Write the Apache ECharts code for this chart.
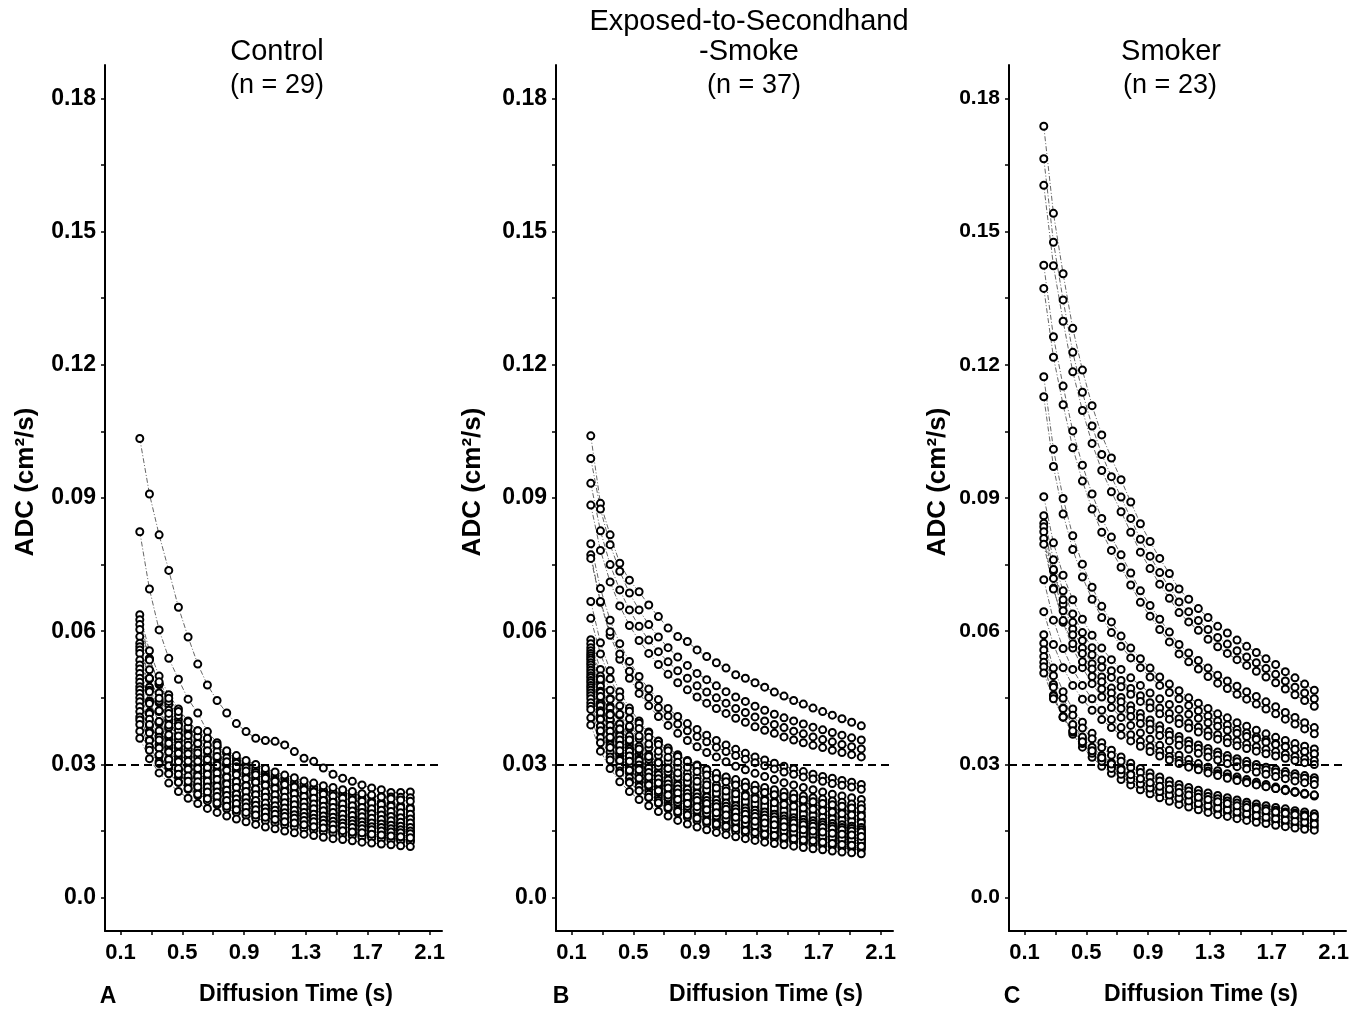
<!DOCTYPE html>
<html><head><meta charset="utf-8">
<script src="https://cdn.jsdelivr.net/npm/echarts@6/dist/echarts.min.js"></script>
<style>html,body{margin:0;padding:0;background:#fff}#chart{width:1369px;height:1015px}</style>
</head><body><div id="chart"></div>
<script>
// Diffusion times (s) of the ADC measurements
const diffusionTimes = [0.225,0.2875,0.35,0.4125,0.475,0.5375,0.6,0.6625,0.725,0.7875,0.85,0.9125,0.975,1.0375,1.1,1.1625,1.225,1.2875,1.35,1.4125,1.475,1.5375,1.6,1.6625,1.725,1.7875,1.85,1.9125,1.975];
const xTickValues = [0.1,0.3,0.5,0.7,0.9,1.1,1.3,1.5,1.7,1.9,2.1];
const xLabelValues = [0.1,0.5,0.9,1.3,1.7,2.1];
const yTickValues = [0,0.015,0.03,0.045,0.06,0.075,0.09,0.105,0.12,0.135,0.15,0.165,0.18];
const yLabelValues = [0,0.03,0.06,0.09,0.12,0.15,0.18];
const thresholdADC = 0.03;

// Panel A: Control (n = 29), ADC in cm^2/s
const controlADC = [
[.1034,.0909,.0817,.0737,.0654,.0587,.0526,.0479,.0444,.0416,.0392,.0374,.0359,.0354,.0352,.0344,.0329,.0314,.0307,.0292,.0278,.0269,.0262,.0254,.0247,.0243,.0237,.0237,.0238],
[.0824,.0695,.0603,.0539,.0492,.0447,.0416,.0374,.0349,.0326,.0307,.0296,.0284,.0277,.0267,.0258,.0251,.0249,.0243,.0240,.0237,.0235,.0233,.0231,.0229,.0228,.0227,.0226,.0225],
[.0637,.0556,.0499,.0457,.0425,.0398,.0376,.0357,.0341,.0326,.0313,.0303,.0292,.0283,.0275,.0267,.0260,.0254,.0248,.0242,.0236,.0232,.0227,.0222,.0218,.0215,.0211,.0208,.0204],
[.0626,.0539,.0480,.0435,.0401,.0373,.0350,.0331,.0314,.0300,.0287,.0276,.0265,.0257,.0249,.0240,.0233,.0227,.0221,.0216,.0210,.0206,.0201,.0197,.0193,.0189,.0185,.0182,.0179],
[.0615,.0537,.0482,.0442,.0410,.0384,.0363,.0344,.0329,.0315,.0303,.0292,.0282,.0273,.0265,.0258,.0251,.0245,.0239,.0234,.0228,.0224,.0219,.0215,.0211,.0207,.0204,.0200,.0197],
[.0604,.0535,.0486,.0449,.0419,.0396,.0376,.0359,.0344,.0331,.0320,.0309,.0300,.0291,.0283,.0276,.0270,.0263,.0258,.0252,.0248,.0243,.0239,.0234,.0231,.0227,.0223,.0220,.0217],
[.0588,.0513,.0461,.0422,.0392,.0368,.0347,.0329,.0315,.0301,.0289,.0279,.0270,.0261,.0253,.0246,.0240,.0234,.0229,.0223,.0218,.0214,.0209,.0205,.0202,.0198,.0195,.0192,.0188],
[.0573,.0493,.0439,.0398,.0367,.0342,.0320,.0303,.0288,.0274,.0263,.0253,.0243,.0235,.0227,.0220,.0214,.0208,.0202,.0198,.0193,.0189,.0184,.0180,.0176,.0173,.0170,.0167,.0164],
[.0565,.0493,.0443,.0406,.0377,.0353,.0333,.0316,.0302,.0289,.0278,.0268,.0259,.0251,.0244,.0237,.0231,.0225,.0220,.0215,.0210,.0206,.0201,.0197,.0194,.0190,.0187,.0184,.0181],
[.0558,.0494,.0449,.0415,.0387,.0365,.0347,.0331,.0318,.0306,.0295,.0285,.0277,.0269,.0262,.0255,.0249,.0243,.0238,.0233,.0229,.0224,.0220,.0217,.0213,.0210,.0206,.0203,.0200],
[.0550,.0474,.0421,.0382,.0352,.0328,.0307,.0291,.0276,.0263,.0252,.0243,.0233,.0226,.0218,.0211,.0205,.0200,.0194,.0190,.0185,.0181,.0177,.0173,.0169,.0166,.0163,.0160,.0157],
[.0535,.0467,.0419,.0384,.0357,.0334,.0316,.0300,.0286,.0274,.0263,.0254,.0246,.0238,.0231,.0224,.0218,.0213,.0208,.0203,.0198,.0195,.0190,.0187,.0184,.0180,.0177,.0174,.0171],
[.0524,.0464,.0421,.0389,.0364,.0343,.0326,.0311,.0298,.0287,.0277,.0268,.0260,.0253,.0246,.0239,.0234,.0228,.0224,.0219,.0215,.0211,.0207,.0203,.0200,.0197,.0194,.0191,.0188],
[.0515,.0443,.0394,.0358,.0330,.0307,.0288,.0272,.0259,.0247,.0236,.0227,.0218,.0211,.0204,.0198,.0192,.0187,.0182,.0178,.0173,.0169,.0165,.0162,.0159,.0156,.0152,.0150,.0147],
[.0505,.0441,.0396,.0363,.0337,.0316,.0298,.0283,.0270,.0259,.0248,.0240,.0232,.0224,.0218,.0212,.0206,.0201,.0196,.0192,.0187,.0184,.0180,.0176,.0173,.0170,.0167,.0165,.0162],
[.0494,.0437,.0397,.0367,.0343,.0324,.0307,.0293,.0281,.0271,.0261,.0252,.0245,.0238,.0232,.0226,.0221,.0215,.0211,.0206,.0203,.0199,.0195,.0192,.0189,.0186,.0183,.0180,.0177],
[.0485,.0418,.0372,.0337,.0310,.0289,.0271,.0257,.0243,.0232,.0223,.0214,.0206,.0199,.0193,.0186,.0181,.0176,.0171,.0167,.0163,.0160,.0156,.0153,.0149,.0146,.0144,.0141,.0139],
[.0475,.0415,.0372,.0341,.0317,.0297,.0280,.0266,.0254,.0243,.0234,.0226,.0218,.0211,.0205,.0199,.0194,.0189,.0185,.0181,.0176,.0173,.0169,.0166,.0163,.0160,.0157,.0155,.0152],
[.0468,.0414,.0376,.0348,.0325,.0307,.0291,.0278,.0266,.0256,.0248,.0239,.0232,.0226,.0219,.0214,.0209,.0204,.0200,.0196,.0192,.0188,.0185,.0182,.0179,.0176,.0173,.0170,.0168],
[.0460,.0402,.0361,.0330,.0307,.0288,.0271,.0258,.0246,.0236,.0226,.0219,.0211,.0204,.0198,.0193,.0188,.0183,.0179,.0175,.0171,.0167,.0164,.0161,.0158,.0155,.0152,.0150,.0147],
[.0450,.0387,.0345,.0313,.0288,.0268,.0252,.0238,.0226,.0216,.0207,.0198,.0191,.0185,.0179,.0173,.0168,.0163,.0159,.0155,.0151,.0148,.0144,.0142,.0139,.0136,.0133,.0131,.0129],
[.0441,.0390,.0355,.0328,.0306,.0289,.0274,.0262,.0251,.0242,.0233,.0225,.0219,.0213,.0207,.0202,.0197,.0192,.0188,.0184,.0181,.0177,.0174,.0171,.0168,.0166,.0163,.0161,.0158],
[.0430,.0375,.0337,.0309,.0287,.0269,.0254,.0241,.0230,.0220,.0212,.0204,.0197,.0191,.0185,.0180,.0175,.0171,.0167,.0163,.0160,.0157,.0153,.0150,.0147,.0145,.0142,.0140,.0138],
[.0419,.0371,.0337,.0311,.0291,.0274,.0261,.0249,.0238,.0230,.0222,.0214,.0208,.0202,.0197,.0191,.0187,.0183,.0179,.0175,.0172,.0168,.0166,.0163,.0160,.0158,.0155,.0153,.0150],
[.0407,.0355,.0319,.0292,.0271,.0254,.0240,.0228,.0218,.0208,.0200,.0193,.0187,.0181,.0175,.0171,.0166,.0162,.0158,.0155,.0151,.0148,.0145,.0142,.0140,.0137,.0135,.0133,.0130],
[.0400,.0354,.0322,.0297,.0278,.0262,.0249,.0238,.0228,.0219,.0212,.0204,.0198,.0193,.0188,.0183,.0179,.0174,.0171,.0167,.0164,.0161,.0158,.0155,.0153,.0150,.0148,.0146,.0144],
[.0390,.0340,.0306,.0280,.0260,.0244,.0230,.0218,.0209,.0200,.0192,.0185,.0179,.0173,.0168,.0163,.0159,.0155,.0152,.0148,.0145,.0142,.0139,.0136,.0134,.0131,.0129,.0127,.0125],
[.0375,.0332,.0302,.0279,.0260,.0246,.0233,.0223,.0213,.0206,.0198,.0192,.0186,.0181,.0176,.0171,.0168,.0164,.0160,.0157,.0154,.0151,.0148,.0146,.0143,.0141,.0139,.0137,.0135],
[.0359,.0313,.0281,.0258,.0239,.0224,.0212,.0201,.0192,.0184,.0177,.0171,.0165,.0159,.0155,.0150,.0146,.0143,.0140,.0136,.0133,.0131,.0128,.0125,.0123,.0121,.0119,.0117,.0115]
];

// Panel B: Exposed-to-Secondhand-Smoke (n = 37)
const exposedADC = [
[.1040,.0888,.0817,.0753,.0715,.0689,.0659,.0633,.0607,.0588,.0577,.0558,.0543,.0529,.0517,.0502,.0494,.0484,.0474,.0463,.0454,.0444,.0436,.0427,.0419,.0411,.0403,.0395,.0387],
[.0989,.0875,.0795,.0735,.0686,.0648,.0615,.0587,.0563,.0542,.0523,.0505,.0491,.0477,.0464,.0452,.0442,.0431,.0422,.0413,.0405,.0398,.0391,.0384,.0378,.0372,.0366,.0360,.0355],
[.0933,.0826,.0750,.0693,.0648,.0611,.0580,.0554,.0531,.0511,.0494,.0477,.0463,.0450,.0438,.0426,.0417,.0407,.0398,.0390,.0383,.0375,.0369,.0362,.0356,.0351,.0345,.0340,.0335],
[.0884,.0782,.0711,.0657,.0613,.0579,.0550,.0525,.0503,.0484,.0468,.0452,.0438,.0426,.0415,.0404,.0395,.0385,.0377,.0370,.0362,.0355,.0349,.0343,.0338,.0332,.0327,.0322,.0317],
[.0797,.0696,.0625,.0572,.0532,.0498,.0470,.0446,.0426,.0408,.0392,.0379,.0366,.0354,.0344,.0334,.0325,.0317,.0310,.0303,.0296,.0290,.0284,.0278,.0273,.0269,.0264,.0260,.0255],
[.0772,.0665,.0591,.0537,.0494,.0460,.0432,.0408,.0388,.0370,.0354,.0340,.0327,.0317,.0306,.0296,.0288,.0280,.0273,.0266,.0259,.0254,.0248,.0243,.0238,.0233,.0229,.0225,.0221],
[.0764,.0667,.0599,.0549,.0510,.0478,.0451,.0428,.0409,.0391,.0376,.0363,.0351,.0339,.0329,.0320,.0312,.0304,.0297,.0290,.0283,.0278,.0272,.0267,.0262,.0257,.0253,.0249,.0244],
[.0667,.0574,.0511,.0464,.0427,.0398,.0373,.0353,.0335,.0319,.0306,.0294,.0283,.0273,.0265,.0256,.0249,.0242,.0235,.0230,.0224,.0219,.0214,.0210,.0205,.0201,.0197,.0194,.0191],
[.0629,.0549,.0493,.0452,.0420,.0393,.0371,.0352,.0337,.0322,.0309,.0299,.0289,.0279,.0271,.0264,.0257,.0250,.0245,.0239,.0233,.0229,.0224,.0220,.0216,.0212,.0208,.0205,.0201],
[.0581,.0514,.0467,.0432,.0403,.0381,.0361,.0345,.0331,.0318,.0307,.0297,.0288,.0280,.0272,.0266,.0260,.0253,.0248,.0243,.0238,.0234,.0229,.0225,.0222,.0218,.0215,.0211,.0209],
[.0572,.0499,.0448,.0411,.0382,.0358,.0337,.0320,.0306,.0293,.0281,.0272,.0263,.0254,.0247,.0240,.0233,.0228,.0223,.0217,.0212,.0208,.0204,.0200,.0196,.0193,.0189,.0186,.0183],
[.0563,.0485,.0431,.0391,.0360,.0336,.0315,.0298,.0283,.0270,.0258,.0248,.0239,.0231,.0224,.0216,.0210,.0204,.0199,.0194,.0189,.0185,.0181,.0177,.0173,.0170,.0167,.0164,.0161],
[.0556,.0492,.0447,.0413,.0386,.0364,.0346,.0330,.0316,.0305,.0294,.0284,.0276,.0268,.0261,.0254,.0249,.0242,.0237,.0232,.0228,.0224,.0220,.0216,.0212,.0209,.0206,.0202,.0200],
[.0550,.0467,.0411,.0370,.0338,.0313,.0292,.0274,.0260,.0246,.0235,.0225,.0216,.0208,.0201,.0194,.0188,.0182,.0177,.0172,.0168,.0163,.0160,.0156,.0152,.0149,.0146,.0143,.0140],
[.0545,.0476,.0427,.0391,.0364,.0341,.0322,.0305,.0292,.0279,.0268,.0259,.0250,.0242,.0235,.0228,.0222,.0217,.0212,.0207,.0202,.0198,.0194,.0190,.0187,.0184,.0180,.0178,.0174],
[.0540,.0465,.0414,.0375,.0346,.0322,.0302,.0286,.0271,.0259,.0248,.0238,.0229,.0221,.0214,.0207,.0201,.0196,.0191,.0186,.0181,.0178,.0173,.0170,.0166,.0163,.0160,.0157,.0154],
[.0535,.0454,.0400,.0360,.0329,.0304,.0284,.0267,.0253,.0240,.0228,.0219,.0210,.0202,.0195,.0188,.0182,.0177,.0172,.0167,.0163,.0159,.0155,.0151,.0148,.0145,.0142,.0139,.0136],
[.0529,.0462,.0415,.0380,.0353,.0331,.0312,.0296,.0283,.0271,.0260,.0251,.0243,.0235,.0228,.0222,.0216,.0211,.0206,.0201,.0196,.0193,.0188,.0185,.0181,.0178,.0175,.0172,.0169],
[.0524,.0451,.0401,.0364,.0335,.0312,.0293,.0277,.0263,.0251,.0241,.0231,.0222,.0215,.0208,.0201,.0195,.0190,.0185,.0181,.0176,.0172,.0168,.0165,.0161,.0158,.0155,.0152,.0150],
[.0518,.0440,.0387,.0348,.0319,.0295,.0275,.0258,.0245,.0232,.0221,.0212,.0204,.0196,.0189,.0182,.0177,.0171,.0167,.0162,.0158,.0154,.0150,.0147,.0143,.0140,.0137,.0135,.0132],
[.0512,.0453,.0412,.0380,.0355,.0335,.0318,.0304,.0291,.0281,.0271,.0262,.0254,.0247,.0240,.0234,.0229,.0223,.0219,.0214,.0210,.0206,.0202,.0199,.0196,.0193,.0189,.0186,.0184],
[.0506,.0436,.0388,.0352,.0324,.0302,.0283,.0268,.0254,.0242,.0232,.0223,.0215,.0207,.0201,.0194,.0189,.0184,.0179,.0175,.0170,.0166,.0162,.0159,.0156,.0153,.0150,.0147,.0145],
[.0500,.0425,.0374,.0336,.0308,.0285,.0266,.0250,.0236,.0224,.0214,.0205,.0197,.0189,.0183,.0176,.0171,.0166,.0161,.0157,.0153,.0149,.0145,.0142,.0139,.0136,.0133,.0130,.0128],
[.0495,.0432,.0388,.0355,.0330,.0309,.0292,.0277,.0265,.0253,.0244,.0235,.0227,.0220,.0213,.0207,.0202,.0197,.0193,.0188,.0184,.0180,.0176,.0173,.0170,.0167,.0164,.0161,.0158],
[.0489,.0421,.0375,.0340,.0313,.0291,.0273,.0259,.0245,.0234,.0224,.0216,.0207,.0200,.0194,.0188,.0182,.0178,.0173,.0169,.0164,.0161,.0157,.0154,.0151,.0148,.0145,.0142,.0140],
[.0484,.0411,.0362,.0325,.0298,.0275,.0257,.0242,.0228,.0217,.0207,.0198,.0190,.0183,.0177,.0170,.0165,.0160,.0156,.0151,.0148,.0144,.0140,.0137,.0134,.0131,.0128,.0126,.0123],
[.0478,.0417,.0375,.0343,.0319,.0299,.0282,.0268,.0256,.0245,.0235,.0227,.0219,.0212,.0206,.0200,.0195,.0190,.0186,.0182,.0177,.0174,.0170,.0167,.0164,.0161,.0158,.0156,.0153],
[.0473,.0402,.0353,.0318,.0291,.0269,.0251,.0236,.0223,.0212,.0202,.0193,.0186,.0179,.0173,.0166,.0161,.0157,.0152,.0148,.0144,.0140,.0137,.0134,.0131,.0128,.0125,.0123,.0121],
[.0467,.0402,.0358,.0325,.0299,.0278,.0261,.0247,.0234,.0224,.0214,.0206,.0198,.0191,.0185,.0179,.0174,.0170,.0165,.0161,.0157,.0154,.0150,.0147,.0144,.0141,.0138,.0136,.0134],
[.0461,.0402,.0361,.0331,.0307,.0288,.0272,.0258,.0247,.0236,.0227,.0219,.0212,.0205,.0199,.0193,.0188,.0183,.0179,.0175,.0171,.0168,.0164,.0161,.0158,.0155,.0153,.0150,.0148],
[.0455,.0386,.0340,.0306,.0280,.0259,.0242,.0227,.0215,.0204,.0194,.0186,.0179,.0172,.0166,.0160,.0155,.0151,.0147,.0142,.0139,.0135,.0132,.0129,.0126,.0123,.0121,.0118,.0116],
[.0448,.0386,.0344,.0312,.0287,.0267,.0251,.0237,.0225,.0215,.0206,.0197,.0190,.0184,.0178,.0172,.0167,.0162,.0158,.0154,.0150,.0147,.0143,.0141,.0138,.0135,.0132,.0130,.0128],
[.0439,.0373,.0328,.0295,.0270,.0250,.0233,.0219,.0207,.0197,.0187,.0180,.0173,.0166,.0160,.0155,.0150,.0145,.0141,.0137,.0134,.0130,.0127,.0124,.0122,.0119,.0116,.0114,.0112],
[.0431,.0376,.0338,.0309,.0287,.0269,.0254,.0241,.0231,.0221,.0212,.0205,.0198,.0191,.0186,.0181,.0176,.0172,.0168,.0164,.0160,.0157,.0153,.0150,.0148,.0145,.0143,.0141,.0138],
[.0424,.0360,.0317,.0285,.0261,.0241,.0225,.0212,.0200,.0190,.0181,.0173,.0167,.0160,.0155,.0149,.0145,.0140,.0137,.0133,.0129,.0126,.0123,.0120,.0117,.0115,.0112,.0110,.0108],
[.0405,.0349,.0310,.0281,.0259,.0241,.0226,.0214,.0203,.0194,.0186,.0179,.0172,.0166,.0161,.0156,.0151,.0147,.0143,.0140,.0136,.0133,.0130,.0128,.0125,.0122,.0120,.0118,.0116],
[.0389,.0330,.0291,.0261,.0239,.0221,.0207,.0194,.0184,.0174,.0166,.0159,.0153,.0147,.0142,.0137,.0133,.0129,.0125,.0122,.0119,.0116,.0113,.0110,.0108,.0105,.0103,.0101,.0099]
];

// Panel C: Smoker (n = 23)
const smokerADC = [
[.1737,.1541,.1405,.1282,.1188,.1108,.1042,.0990,.0941,.0891,.0842,.0802,.0764,.0730,.0695,.0672,.0651,.0631,.0611,.0596,.0580,.0566,.0552,.0538,.0525,.0509,.0495,.0481,.0467],
[.1664,.1476,.1346,.1228,.1138,.1062,.0998,.0948,.0902,.0854,.0807,.0769,.0732,.0699,.0666,.0644,.0624,.0604,.0586,.0571,.0556,.0542,.0529,.0516,.0503,.0488,.0474,.0461,.0448],
[.1604,.1423,.1298,.1184,.1097,.1023,.0962,.0914,.0869,.0823,.0778,.0741,.0706,.0674,.0642,.0621,.0602,.0582,.0565,.0550,.0536,.0523,.0510,.0497,.0484,.0470,.0457,.0444,.0431],
[.1424,.1263,.1152,.1051,.0974,.0909,.0854,.0812,.0772,.0731,.0691,.0658,.0627,.0598,.0570,.0551,.0534,.0517,.0501,.0488,.0476,.0464,.0453,.0441,.0430,.0417,.0406,.0394,.0383],
[.1372,.1217,.1110,.1013,.0938,.0875,.0823,.0782,.0744,.0704,.0665,.0634,.0604,.0576,.0549,.0531,.0515,.0498,.0483,.0471,.0458,.0447,.0436,.0425,.0414,.0402,.0391,.0380,.0369],
[.1173,.1010,.0899,.0815,.0751,.0699,.0656,.0621,.0589,.0562,.0538,.0517,.0497,.0481,.0466,.0450,.0438,.0426,.0414,.0405,.0394,.0386,.0377,.0369,.0361,.0354,.0347,.0341,.0335],
[.1128,.0971,.0864,.0784,.0722,.0672,.0631,.0597,.0566,.0540,.0518,.0497,.0478,.0462,.0448,.0433,.0421,.0409,.0398,.0389,.0379,.0371,.0362,.0355,.0347,.0341,.0334,.0328,.0323],
[.0903,.0799,.0726,.0671,.0627,.0591,.0562,.0536,.0514,.0495,.0478,.0461,.0448,.0435,.0424,.0413,.0404,.0394,.0386,.0377,.0370,.0363,.0357,.0350,.0345,.0340,.0334,.0329,.0324],
[.0860,.0761,.0691,.0639,.0597,.0563,.0535,.0511,.0489,.0471,.0455,.0439,.0427,.0415,.0403,.0393,.0384,.0375,.0367,.0359,.0353,.0346,.0340,.0334,.0329,.0323,.0318,.0313,.0309],
[.0843,.0736,.0661,.0605,.0562,.0527,.0497,.0472,.0451,.0432,.0415,.0400,.0387,.0374,.0363,.0353,.0344,.0336,.0328,.0320,.0313,.0307,.0300,.0294,.0289,.0284,.0279,.0275,.0270],
[.0835,.0739,.0671,.0620,.0579,.0547,.0519,.0496,.0475,.0458,.0442,.0427,.0414,.0402,.0392,.0382,.0373,.0364,.0357,.0349,.0342,.0336,.0330,.0324,.0319,.0314,.0309,.0304,.0300],
[.0824,.0719,.0646,.0592,.0550,.0515,.0486,.0461,.0441,.0422,.0405,.0391,.0378,.0366,.0355,.0345,.0336,.0328,.0321,.0313,.0306,.0300,.0293,.0288,.0283,.0278,.0273,.0269,.0264],
[.0809,.0697,.0620,.0562,.0518,.0482,.0452,.0428,.0406,.0388,.0371,.0357,.0343,.0332,.0321,.0311,.0302,.0294,.0286,.0279,.0272,.0266,.0260,.0255,.0249,.0244,.0239,.0235,.0231],
[.0796,.0695,.0624,.0572,.0531,.0498,.0470,.0446,.0426,.0408,.0392,.0378,.0365,.0353,.0343,.0334,.0325,.0317,.0310,.0302,.0295,.0290,.0283,.0278,.0273,.0268,.0263,.0259,.0255],
[.0716,.0625,.0561,.0514,.0478,.0448,.0422,.0401,.0383,.0367,.0352,.0340,.0329,.0318,.0309,.0300,.0292,.0285,.0279,.0272,.0266,.0261,.0255,.0250,.0246,.0241,.0237,.0233,.0229],
[.0644,.0570,.0518,.0478,.0447,.0422,.0401,.0383,.0366,.0353,.0341,.0329,.0319,.0310,.0302,.0294,.0288,.0281,.0275,.0269,.0264,.0259,.0254,.0250,.0246,.0242,.0238,.0234,.0231],
[.0592,.0517,.0464,.0425,.0395,.0370,.0349,.0332,.0317,.0303,.0291,.0281,.0272,.0263,.0255,.0248,.0242,.0236,.0230,.0225,.0220,.0215,.0211,.0207,.0203,.0200,.0196,.0193,.0189],
[.0573,.0500,.0449,.0411,.0382,.0358,.0338,.0321,.0307,.0293,.0282,.0272,.0263,.0254,.0247,.0240,.0234,.0228,.0223,.0218,.0213,.0209,.0204,.0200,.0197,.0193,.0190,.0187,.0183],
[.0558,.0480,.0427,.0388,.0357,.0333,.0312,.0295,.0280,.0267,.0256,.0246,.0237,.0229,.0222,.0214,.0208,.0203,.0197,.0193,.0187,.0184,.0179,.0176,.0172,.0169,.0165,.0162,.0160],
[.0543,.0474,.0426,.0390,.0362,.0339,.0320,.0304,.0291,.0278,.0267,.0258,.0249,.0241,.0234,.0228,.0222,.0216,.0211,.0206,.0201,.0198,.0193,.0190,.0186,.0183,.0180,.0177,.0174],
[.0530,.0456,.0406,.0368,.0339,.0316,.0296,.0280,.0266,.0254,.0243,.0234,.0225,.0217,.0210,.0204,.0198,.0192,.0187,.0183,.0178,.0174,.0170,.0167,.0163,.0160,.0157,.0154,.0152],
[.0520,.0454,.0408,.0373,.0347,.0325,.0307,.0291,.0278,.0266,.0256,.0247,.0239,.0231,.0224,.0218,.0212,.0207,.0202,.0198,.0193,.0189,.0185,.0181,.0178,.0175,.0172,.0170,.0166],
[.0506,.0448,.0407,.0376,.0351,.0331,.0315,.0301,.0288,.0277,.0268,.0259,.0251,.0244,.0237,.0231,.0226,.0221,.0216,.0212,.0207,.0203,.0200,.0196,.0193,.0190,.0187,.0184,.0182]
];

const panelTitles = [["Control","(n = 29)"],["Exposed-to-Secondhand","-Smoke","(n = 37)"],["Smoker","(n = 23)"]];
const panelLetters = ["A","B","C"];
const xAxisName = "Diffusion Time (s)";
const yAxisName = "ADC (cm\u00B2/s)";

const FONT = '"Liberation Sans", Arial, Helvetica, sans-serif';
const chart = echarts.init(document.getElementById('chart'), null, {renderer: 'canvas'});

const panels = [
  {left: 105, data: controlADC, ySize: 23, titleX: 277, nameX: 296, letterX: 108, yNameX: 26},
  {left: 556, data: exposedADC, ySize: 23, titleX: 750, nameX: 766, letterX: 561, yNameX: 473},
  {left: 1009, data: smokerADC, ySize: 21, titleX: 1171, nameX: 1201, letterX: 1012, yNameX: 938}
];
const grids = [], xAxes = [], yAxes = [], series = [];
panels.forEach((p, i) => {
  grids.push({left: p.left, top: 65, width: 337, height: 866, containLabel: false});
  xAxes.push({
    type: 'value', gridIndex: i, min: 0, max: 2.18, splitLine: {show: false},
    axisLine: {show: true, onZero: false, lineStyle: {color: '#000', width: 2}},
    axisTick: {show: true, customValues: xTickValues, length: 4, lineStyle: {color: '#000', width: 1.5}},
    axisLabel: {show: true, customValues: xLabelValues, formatter: v => v.toFixed(1), color: '#000',
      fontSize: 22, fontWeight: 'bold', fontFamily: FONT, margin: 11}
  });
  yAxes.push({
    type: 'value', gridIndex: i, min: -0.0075, max: 0.1875, splitLine: {show: false},
    axisLine: {show: true, onZero: false, lineStyle: {color: '#000', width: 2}},
    axisTick: {show: true, customValues: yTickValues, length: 4, lineStyle: {color: '#000', width: 1.5}},
    axisLabel: {show: true, customValues: yLabelValues, formatter: v => (v === 0 ? '0.0' : v.toFixed(2)),
      color: '#000', fontSize: p.ySize, fontWeight: 'bold', fontFamily: FONT, margin: 9}
  });
  p.data.forEach((curve, j) => {
    const s = {
      type: 'line', xAxisIndex: i, yAxisIndex: i,
      data: diffusionTimes.map((t, k) => [t, curve[k]]),
      symbol: 'emptyCircle', symbolSize: 7, showSymbol: true,
      lineStyle: {color: '#555', width: 0.9, type: [5, 2, 1, 2]},
      itemStyle: {color: '#000', borderColor: '#000', borderWidth: 0.9},
      emphasis: {disabled: true}, silent: true, animation: false, z: 2
    };
    if (j === 0) {
      s.markLine = {
        silent: true, symbol: ['none', 'none'], animation: false,
        label: {show: false},
        lineStyle: {color: '#000', type: [8, 5], width: 2},
        data: [{yAxis: thresholdADC}], z: 5
      };
    }
    series.push(s);
  });
});

const graphics = [];
function txt(text, x, y, font, rot) {
  graphics.push({type: 'text', x: x, y: y, rotation: rot || 0, silent: true, z: 10,
    style: {text: text, font: font, fill: '#000', align: 'center', verticalAlign: 'middle',
      textAlign: 'center', textVerticalAlign: 'middle'}});
}
// titles
txt(panelTitles[0][0], panels[0].titleX, 52, 'normal 29px ' + FONT);
txt(panelTitles[0][1], panels[0].titleX, 86, 'normal 27px ' + FONT);
txt(panelTitles[1][0], 749, 22, 'normal 29px ' + FONT);
txt(panelTitles[1][1], 749, 52, 'normal 29px ' + FONT);
txt(panelTitles[1][2], 754, 86, 'normal 27px ' + FONT);
txt(panelTitles[2][0], panels[2].titleX, 52, 'normal 29px ' + FONT);
txt(panelTitles[2][1], 1170, 86, 'normal 27px ' + FONT);
panels.forEach((p, i) => {
  txt(xAxisName, p.nameX, 995, 'bold 23px ' + FONT);
  txt(panelLetters[i], p.letterX, 997, 'bold 23px ' + FONT);
  txt(yAxisName, p.yNameX, 482, 'bold 26px ' + FONT, Math.PI / 2);
});

chart.setOption({
  animation: false,
  backgroundColor: '#fff',
  grid: grids, xAxis: xAxes, yAxis: yAxes, series: series,
  graphic: graphics
});
</script>
</body></html>
